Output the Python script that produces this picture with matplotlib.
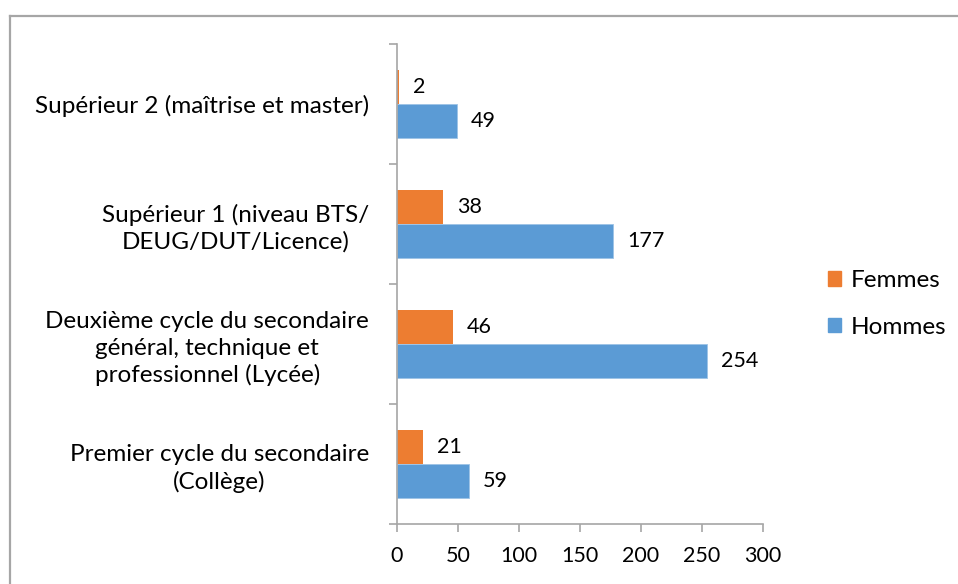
import matplotlib
matplotlib.use("Agg")
import matplotlib.pyplot as plt
from matplotlib.lines import Line2D
from matplotlib.patches import Patch
import numpy as np

categories = [
    "Premier cycle du secondaire\n(Collège)",
    "Deuxième cycle du secondaire\ngénéral, technique et\nprofessionnel (Lycée)",
    "Supérieur 1 (niveau BTS/\nDEUG/DUT/Licence)",
    "Supérieur 2 (maîtrise et master)",
]
femmes = [21, 46, 38, 2]
hommes = [59, 254, 177, 49]
xticks = [0, 50, 100, 150, 200, 250, 300]

ORANGE = "#ED7D31"
BLUE = "#5B9BD5"
GRAY = "#A6A6A6"
FS_TXT = 17.5
FS_NUM = 15.5

plt.rcParams['font.family'] = ['Lato', 'DejaVu Sans']

fig = plt.figure(figsize=(9.58, 5.84), dpi=100)
ax = fig.add_axes([397/958, 60/584, 366/958, 480/584])

centers = np.arange(len(categories)) + 0.5
h = 0.283
ax.barh(centers + h/2, femmes, height=h, color=ORANGE, label="Femmes")
ax.barh(centers - h/2, hommes, height=h, color=BLUE, label="Hommes",
        edgecolor="#9DC3E6", linewidth=0.6)

for c, f, m in zip(centers, femmes, hommes):
    ax.annotate(str(f), (f, c + h/2), xytext=(14, 0), textcoords="offset pixels",
                va="center", ha="left", fontsize=FS_NUM, color="black")
    ax.annotate(str(m), (m, c - h/2), xytext=(14, 0), textcoords="offset pixels",
                va="center", ha="left", fontsize=FS_NUM, color="black")

ax.set_xlim(0, 300)
ax.set_ylim(0, len(categories))
ax.set_xticks(xticks)
ax.set_xticklabels([str(t) for t in xticks], fontsize=FS_NUM)
ax.set_yticks(np.arange(len(categories) + 1))
ax.set_yticklabels([])
ax.set_yticks(centers, minor=True)
ax.set_yticklabels(categories, minor=True, fontsize=FS_TXT, ha="right",
                   multialignment="center", linespacing=1.3)
ax.tick_params(axis="y", which="minor", length=0, pad=20)
ax.tick_params(axis="y", which="major", length=6, color=GRAY, width=1.2)
ax.tick_params(axis="x", length=6, color=GRAY, width=1.2, pad=10)

for s in ["top", "right"]:
    ax.spines[s].set_visible(False)
for s in ["left", "bottom"]:
    ax.spines[s].set_color(GRAY)
    ax.spines[s].set_linewidth(1.2)

handles = [Patch(color=ORANGE), Patch(color=BLUE)]
fig.legend(handles, ["Femmes", "Hommes"], loc="center left",
           bbox_to_anchor=(806/958, 1 - 304/584), frameon=False, fontsize=FS_TXT,
           handlelength=0.55, handleheight=0.55, handletextpad=0.4, labelspacing=1.05)

fig.add_artist(Line2D([9.5/958, 1], [1 - 15.5/584, 1 - 15.5/584], color=GRAY, lw=1.6))
fig.add_artist(Line2D([9.5/958, 9.5/958], [0, 1 - 15.5/584], color=GRAY, lw=1.6))

fig.savefig("out.png", dpi=100)
